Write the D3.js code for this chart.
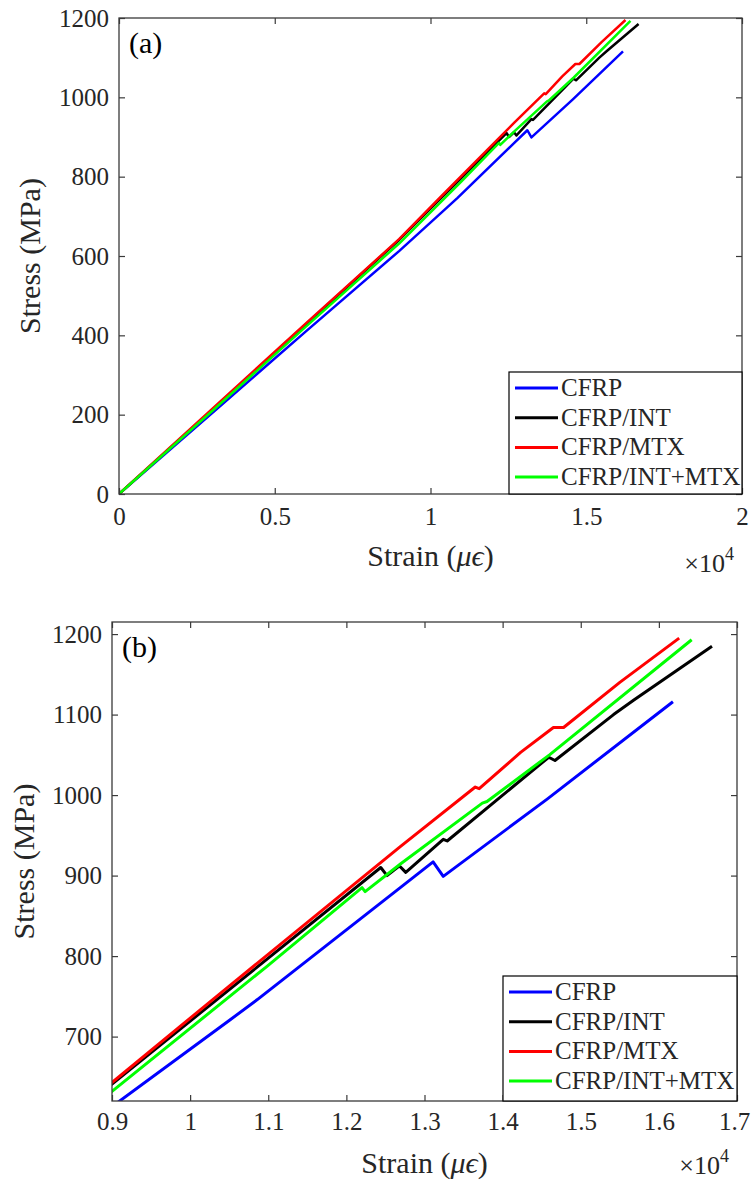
<!DOCTYPE html>
<html>
<head>
<meta charset="utf-8">
<script src="https://cdn.jsdelivr.net/npm/d3@7"></script>
<style>
  body { margin: 0; background: #fff; }
  svg { display: block; }
  svg text { font-family: "Liberation Serif", "Times New Roman", serif; }
</style>
</head>
<body>
<svg id="chart" width="751" height="1183"></svg>
<script>
// Series names / colours (legend order)
const seriesNames = ["CFRP", "CFRP/INT", "CFRP/MTX", "CFRP/INT+MTX"];
const seriesColors = ["#0000ff", "#000000", "#ff0000", "#00ff00"];

// strain (micro-strain), stress (MPa)
const cfrpStrain = [0, 3000, 6000, 9000, 10500, 10860, 12690, 13110, 13240, 14570, 16180];
const cfrpStress = [0, 205, 410, 613, 720, 746, 885, 917, 899, 995, 1116];

const intStrain = [0, 3000, 6000, 9000, 12440, 12520, 12680, 12760, 13240, 13290, 14590, 14670, 15420, 15680, 16680];
const intStress = [0, 212, 428, 641, 910, 900, 912, 904, 945, 943, 1047, 1043, 1100, 1118, 1185];

const mtxStrain = [0, 3000, 6000, 9000, 10340, 12690, 13650, 13700, 14230, 14650, 14780, 15500, 16260];
const mtxStress = [0, 215, 430, 643, 750, 936, 1010, 1008, 1053, 1084, 1084, 1140, 1195];

const intMtxStrain = [0, 3000, 6000, 9000, 10980, 12200, 12240, 12700, 13740, 13800, 14600, 16420];
const intMtxStress = [0, 210, 422, 632, 787, 885, 880, 915, 990, 992, 1050, 1193];

// axis ticks
const xTicksA = [0, 5000, 10000, 15000, 20000];
const yTicksA = [0, 200, 400, 600, 800, 1000, 1200];
const xTicksB = [9000, 10000, 11000, 12000, 13000, 14000, 15000, 16000, 17000];
const yTicksB = [700, 800, 900, 1000, 1100, 1200];

const series = [
  {strain: cfrpStrain, stress: cfrpStress},
  {strain: intStrain, stress: intStress},
  {strain: mtxStrain, stress: mtxStress},
  {strain: intMtxStrain, stress: intMtxStress}
].map((s, i) => ({
  name: seriesNames[i],
  color: seriesColors[i],
  points: s.strain.map((x, j) => [x, s.stress[j]])
}));

const svg = d3.select("#chart");
const axisColor = "#3a3a3a";
const textColor = "#262626";
const serif = "Liberation Serif";

function drawPanel(cfg) {
  const x = d3.scaleLinear().domain(cfg.xDomain).range([cfg.left, cfg.right]);
  const y = d3.scaleLinear().domain(cfg.yDomain).range([cfg.bottom, cfg.top]);
  const g = svg.append("g");
  const fmtX = d => d3.format("~g")(d / 10000);

  // clip for data lines
  g.append("clipPath").attr("id", "clip-" + cfg.id)
    .append("rect")
    .attr("x", cfg.left).attr("y", cfg.top)
    .attr("width", cfg.right - cfg.left).attr("height", cfg.bottom - cfg.top);

  const line = d3.line().x(d => x(d[0])).y(d => y(d[1]));
  g.append("g").attr("clip-path", "url(#clip-" + cfg.id + ")")
    .selectAll("path")
    .data(series)
    .enter().append("path")
    .attr("d", d => line(d.points))
    .attr("fill", "none")
    .attr("stroke", d => d.color)
    .attr("stroke-width", cfg.lineWidth)
    .attr("stroke-linejoin", "round");

  // axes (ticks pointing inward, mirrored on top and right)
  const bottomAxis = g.append("g")
    .attr("transform", "translate(0," + cfg.bottom + ")")
    .call(d3.axisBottom(x).tickValues(cfg.xTicks).tickFormat(fmtX)
      .tickSizeInner(-6).tickSizeOuter(0).tickPadding(cfg.xPad));
  const leftAxis = g.append("g")
    .attr("transform", "translate(" + cfg.left + ",0)")
    .call(d3.axisLeft(y).tickValues(cfg.yTicks).tickFormat(d3.format("d"))
      .tickSizeInner(-6).tickSizeOuter(0).tickPadding(10));
  const topAxis = g.append("g")
    .attr("transform", "translate(0," + cfg.top + ")")
    .call(d3.axisTop(x).tickValues(cfg.xTicks).tickFormat("")
      .tickSizeInner(-6).tickSizeOuter(0));
  const rightAxis = g.append("g")
    .attr("transform", "translate(" + cfg.right + ",0)")
    .call(d3.axisRight(y).tickValues(cfg.yTicks).tickFormat("")
      .tickSizeInner(-6).tickSizeOuter(0));

  [bottomAxis, leftAxis, topAxis, rightAxis].forEach(a => {
    a.attr("font-family", serif).attr("font-size", 25);
    a.select(".domain").remove();
    a.selectAll("line").attr("stroke", axisColor).attr("stroke-width", 1.2);
    a.selectAll("text")
      .attr("fill", textColor)
      .attr("font-family", serif)
      .attr("font-size", 25);
  });

  // keep the last x tick label inside the page
  bottomAxis.selectAll(".tick text")
    .filter((d, i, n) => i === n.length - 1)
    .attr("dx", cfg.lastTickDx || 0);

  // box
  g.append("rect")
    .attr("x", cfg.left).attr("y", cfg.top)
    .attr("width", cfg.right - cfg.left).attr("height", cfg.bottom - cfg.top)
    .attr("fill", "none").attr("stroke", axisColor).attr("stroke-width", 1.3);

  // panel tag
  g.append("text")
    .attr("x", cfg.left + 10).attr("y", cfg.top + 35)
    .attr("fill", "#000")
    .attr("font-family", serif)
    .attr("font-size", 30)
    .text(cfg.tag);

  // x label
  const xl = g.append("text")
    .attr("x", (cfg.left + cfg.right) / 2)
    .attr("y", cfg.bottom + 72)
    .attr("text-anchor", "middle")
    .attr("fill", textColor)
    .attr("font-family", serif)
    .attr("font-size", 30);
  xl.append("tspan").text("Strain (");
  xl.append("tspan").attr("font-style", "italic").text("μϵ");
  xl.append("tspan").text(")");

  // exponent
  const ex = g.append("text")
    .attr("x", cfg.right - 8)
    .attr("y", cfg.bottom + cfg.expDy)
    .attr("text-anchor", "end")
    .attr("fill", textColor)
    .attr("font-family", serif)
    .attr("font-size", 26);
  ex.append("tspan").text("×10");
  ex.append("tspan").attr("dy", -12).attr("font-size", 18).text("4");

  // y label
  g.append("text")
    .attr("transform", "translate(" + cfg.yLabelX + "," + (cfg.top + cfg.bottom) / 2 + ") rotate(-90)")
    .attr("text-anchor", "middle")
    .attr("fill", textColor)
    .attr("font-family", serif)
    .attr("font-size", 30)
    .text("Stress (MPa)");

  // legend
  const lg = g.append("g");
  lg.append("rect")
    .attr("x", cfg.legend.x).attr("y", cfg.legend.y)
    .attr("width", cfg.right - cfg.legend.x).attr("height", cfg.bottom - cfg.legend.y)
    .attr("fill", "#fff").attr("stroke", "#000").attr("stroke-width", 1.2);
  const items = lg.selectAll(".item")
    .data(series)
    .enter().append("g")
    .attr("class", "item")
    .attr("transform", (d, i) => "translate(" + cfg.legend.x + "," + (cfg.legend.y + 16 + i * 29.7) + ")");
  items.append("line")
    .attr("x1", 6).attr("x2", 49)
    .attr("stroke", d => d.color).attr("stroke-width", 3);
  items.append("text")
    .attr("x", 52).attr("y", 8)
    .attr("fill", textColor)
    .attr("font-family", serif)
    .attr("font-size", 25)
    .text(d => d.name);
}

drawPanel({
  id: "a", tag: "(a)",
  left: 119, right: 742, top: 18, bottom: 494,
  xDomain: [0, 20000], yDomain: [0, 1200],
  xTicks: xTicksA, yTicks: yTicksA,
  xPad: 13, lineWidth: 2.5, yLabelX: 40, expDy: 78,
  legend: {x: 509, y: 372}
});

drawPanel({
  id: "b", tag: "(b)",
  left: 112, right: 737, top: 622, bottom: 1101,
  xDomain: [9000, 17000], yDomain: [620, 1215],
  xTicks: xTicksB, yTicks: yTicksB,
  xPad: 11, lineWidth: 3, yLabelX: 34, expDy: 73, lastTickDx: -3,
  legend: {x: 503, y: 976}
});
</script>
</body>
</html>
